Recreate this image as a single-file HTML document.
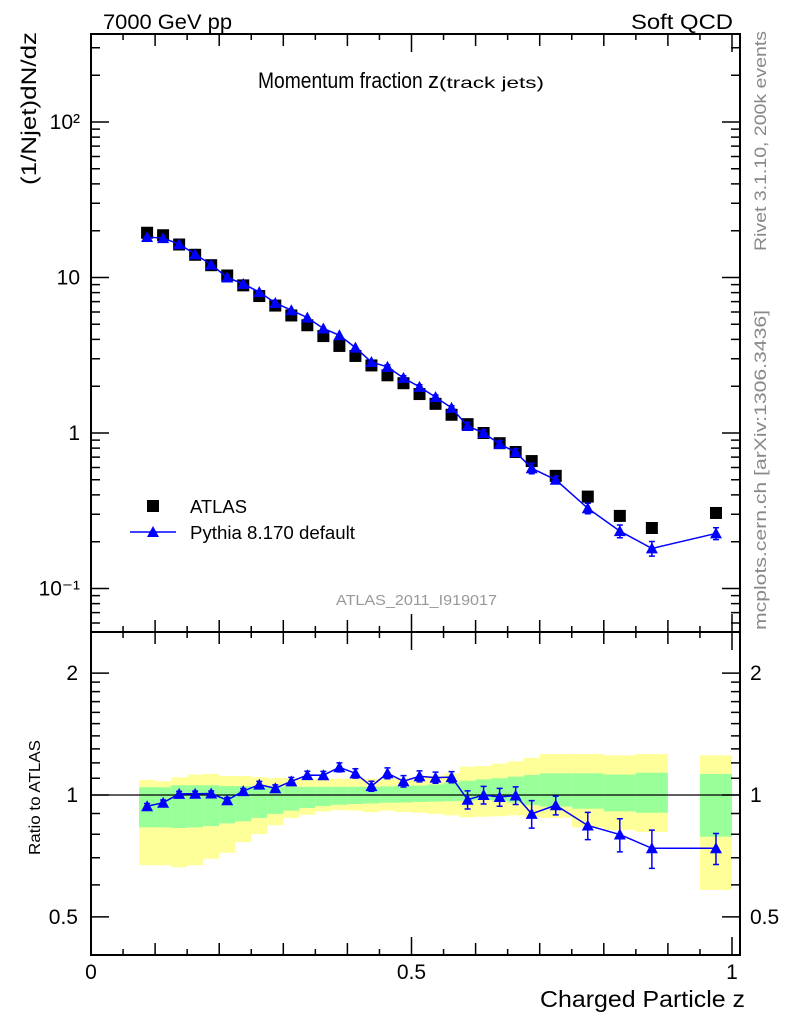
<!DOCTYPE html>
<html><head><meta charset="utf-8"><style>
html,body{margin:0;padding:0;background:#fff}
svg{display:block;font-family:"Liberation Sans",sans-serif}
</style></head><body>
<svg id="chart" width="786" height="1024" viewBox="0 0 786 1024">
<g id="bands"></g>
<g id="main"></g>
<g id="ratio"></g>
<g id="axes"></g>
<text x="103" y="29" font-size="21" textLength="129" lengthAdjust="spacingAndGlyphs">7000 GeV pp</text>
<text x="631" y="29" font-size="21" textLength="102" lengthAdjust="spacingAndGlyphs">Soft QCD</text>
<text x="258" y="88" font-size="22"><tspan textLength="170" lengthAdjust="spacingAndGlyphs">Momentum fraction </tspan><tspan font-size="22" textLength="11" lengthAdjust="spacingAndGlyphs">z</tspan><tspan font-size="16" textLength="105" lengthAdjust="spacingAndGlyphs">(track jets)</tspan></text>
<text transform="translate(36,185) rotate(-90)" font-size="21" textLength="153" lengthAdjust="spacingAndGlyphs">(1/Njet)dN/dz</text>
<text transform="translate(40,855) rotate(-90)" font-size="16" textLength="115" lengthAdjust="spacingAndGlyphs">Ratio to ATLAS</text>
<text x="540" y="1007" font-size="23" textLength="205" lengthAdjust="spacingAndGlyphs">Charged Particle z</text>
<text transform="translate(766,251) rotate(-90)" font-size="17" fill="#888" textLength="220" lengthAdjust="spacingAndGlyphs">Rivet 3.1.10,  200k events</text>
<text transform="translate(766,630) rotate(-90)" font-size="17" fill="#888" textLength="320" lengthAdjust="spacingAndGlyphs">mcplots.cern.ch [arXiv:1306.3436]</text>
<text x="336" y="605" font-size="15" fill="#999" textLength="161" lengthAdjust="spacingAndGlyphs">ATLAS_2011_I919017</text>
<g>
<rect x="147" y="500" width="12" height="12" fill="#000"/>
<text x="190" y="513" font-size="18" textLength="57" lengthAdjust="spacingAndGlyphs">ATLAS</text>
<line x1="130" y1="532" x2="176" y2="532" stroke="#00f" stroke-width="1.5"/>
<polygon points="153,526 159,537 147,537" fill="#00f"/>
<text x="190" y="539" font-size="18" textLength="165" lengthAdjust="spacingAndGlyphs">Pythia 8.170 default</text>
</g>
</svg>
<script>
const binLo = [0.075,0.1,0.125,0.15,0.175,0.2,0.225,0.25,0.275,0.3,0.325,0.35,0.375,0.4,0.425,0.45,0.475,0.5,0.525,0.55,0.575,0.6,0.625,0.65,0.675,0.7,0.75,0.8,0.85,0.95];
const binHi = [0.1,0.125,0.15,0.175,0.2,0.225,0.25,0.275,0.3,0.325,0.35,0.375,0.4,0.425,0.45,0.475,0.5,0.525,0.55,0.575,0.6,0.625,0.65,0.675,0.7,0.75,0.8,0.85,0.9,1.0];
const atlas = [19.4,18.7,16.3,14.0,12.0,10.3,8.9,7.6,6.6,5.7,4.93,4.2,3.63,3.13,2.72,2.35,2.09,1.78,1.54,1.31,1.14,1.0,0.86,0.755,0.66,0.53,0.39,0.293,0.245,0.306];
const pythia = [18.2,17.9,16.4,14.1,12.1,10.0,9.1,8.06,6.86,6.16,5.52,4.70,4.25,3.54,2.86,2.66,2.26,1.98,1.70,1.45,1.11,1.0,0.85,0.753,0.593,0.50,0.328,0.234,0.181,0.226];
const ratioErr = [0.015,0.015,0.015,0.015,0.015,0.015,0.015,0.02,0.02,0.025,0.025,0.025,0.03,0.03,0.03,0.035,0.035,0.035,0.035,0.035,0.05,0.05,0.05,0.05,0.07,0.05,0.065,0.075,0.08,0.065];
const yellowTop = [1.089,1.081,1.106,1.123,1.127,1.114,1.114,1.106,1.101,1.101,1.097,1.097,1.097,1.097,1.097,1.101,1.101,1.106,1.115,1.131,1.175,1.179,1.195,1.211,1.235,1.262,1.262,1.253,1.262,1.253];
const greenTop = [1.045,1.045,1.057,1.057,1.057,1.052,1.052,1.048,1.048,1.048,1.048,1.048,1.048,1.048,1.048,1.050,1.052,1.055,1.062,1.073,1.085,1.093,1.100,1.110,1.120,1.131,1.131,1.123,1.135,1.127];
const greenBot = [0.832,0.832,0.829,0.832,0.838,0.851,0.861,0.878,0.898,0.915,0.929,0.939,0.946,0.950,0.953,0.957,0.958,0.961,0.963,0.965,0.968,0.972,0.968,0.958,0.945,0.936,0.925,0.911,0.904,0.789];
const yellowBot = [0.671,0.671,0.663,0.671,0.696,0.720,0.765,0.801,0.842,0.878,0.894,0.911,0.918,0.915,0.908,0.915,0.908,0.904,0.898,0.891,0.881,0.884,0.886,0.891,0.884,0.878,0.832,0.820,0.810,0.583];
const mainTicks = ["10\u207B\u00B9","1","10","10\u00B2"];
const mainTickVals = [0.1,1,10,100];
const ratioTickVals = [0.5,1,2];
const ratioTickLabels = ["0.5","1","2"];
const xTickVals = [0,0.5,1];
const xTickLabels = ["0","0.5","1"];

const NS="http://www.w3.org/2000/svg";
const L=91,R=740,T=34,MB=632,RB=955;
const X0=91,X1=732;
const xs=z=>X0+(X1-X0)*z;
const ym=v=>433-155.5*Math.log10(v);
const yr=r=>795-405*Math.log10(r);
function mk(parent,tag,attrs){const e=document.createElementNS(NS,tag);for(const k in attrs)e.setAttribute(k,attrs[k]);parent.appendChild(e);return e;}
const gB=document.getElementById('bands'),gM=document.getElementById('main'),gR=document.getElementById('ratio'),gA=document.getElementById('axes');

for(let i=0;i<binLo.length;i++){
  const x1=xs(binLo[i]),x2=xs(binHi[i]);
  const y=mk(gB,'rect',{x:x1,y:yr(yellowTop[i]),width:x2-x1,height:yr(yellowBot[i])-yr(yellowTop[i]),fill:'#ffff99'});
  
  
  const g=mk(gB,'rect',{x:x1,y:yr(greenTop[i]),width:x2-x1,height:yr(greenBot[i])-yr(greenTop[i]),fill:'#99ff99'});
  
  
}
const one=mk(gR,'line',{x1:L,x2:R,y1:yr(1),y2:yr(1),stroke:'#000','stroke-width':1.2});



const cen=i=>(binLo[i]+binHi[i])/2;
for(let i=0;i<atlas.length;i++){
  const s=mk(gM,'rect',{x:xs(cen(i))-6,y:ym(atlas[i])-6,width:12,height:12,fill:'#000'});
  
  
}
let pm='';for(let i=0;i<pythia.length;i++)pm+=(i?'L':'M')+xs(cen(i))+','+ym(pythia[i]);
const pl=mk(gM,'path',{d:pm,fill:'none',stroke:'#00f','stroke-width':1.5});


for(let i=0;i<pythia.length;i++){
  const x=xs(cen(i)),y=ym(pythia[i]);
  const r=pythia[i]/atlas[i],rel=ratioErr[i]/r;
  if(rel>0.03){
    const eb=mk(gM,'path',{d:`M${x},${ym(pythia[i]*(1+rel))}V${ym(pythia[i]*(1-rel))}M${x-3},${ym(pythia[i]*(1+rel))}h6M${x-3},${ym(pythia[i]*(1-rel))}h6`,stroke:'#00f','stroke-width':1.5,fill:'none'});
    
    
  }
  const t=mk(gM,'polygon',{points:`${x},${y-6} ${x+6},${y+5} ${x-6},${y+5}`,fill:'#00f'});
  
  
}
let pr='';for(let i=0;i<pythia.length;i++)pr+=(i?'L':'M')+xs(cen(i))+','+yr(pythia[i]/atlas[i]);
const rl=mk(gR,'path',{d:pr,fill:'none',stroke:'#00f','stroke-width':1.5});


for(let i=0;i<pythia.length;i++){
  const r=pythia[i]/atlas[i],x=xs(cen(i));
  const a=yr(r+ratioErr[i]),b=yr(r-ratioErr[i]);
  const eb=mk(gR,'path',{d:`M${x},${a}V${b}M${x-3},${a}h6M${x-3},${b}h6`,stroke:'#00f','stroke-width':1.5,fill:'none'});
  
  
  const y=yr(r);
  const t=mk(gR,'polygon',{points:`${x},${y-6} ${x+6},${y+5} ${x-6},${y+5}`,fill:'#00f'});
  
  
}
const f1=mk(gA,'rect',{x:L,y:T,width:R-L,height:MB-T,fill:'none',stroke:'#000','stroke-width':2});


const f2=mk(gA,'rect',{x:L,y:MB,width:R-L,height:RB-MB,fill:'none',stroke:'#000','stroke-width':2});


let d='';
for(let k=0;k<=20;k++){
  const z=k*0.05,x=xs(z);const len=(k%10===0)?18:(k%2===0?12:6);
  d+=`M${x},${RB}v${-len}M${x},${MB}v${-len}M${x},${MB}v${len}M${x},${T}v${len}`;
}
for(let e=-2;e<=2;e++)for(let m=1;m<=9;m++){
  const v=m*Math.pow(10,e),y=ym(v);if(y<T||y>MB)continue;
  const len=m===1?18:9;d+=`M${L},${y}h${len}M${R},${y}h${-len}`;
}
[0.5,0.6,0.7,0.8,0.9,1,1.1,1.2,1.3,1.4,1.5,1.6,1.7,1.8,1.9,2].forEach(v=>{
  const y=yr(v);const big=ratioTickVals.includes(v);const len=big?18:9;
  d+=`M${L},${y}h${len}M${R},${y}h${-len}`;
});
const tk=mk(gA,'path',{d:d,stroke:'#000','stroke-width':1.5,fill:'none'});


mainTickVals.forEach((v,i)=>{
  const t=mk(gA,'text',{x:80,y:ym(v)+7,'font-size':21,'text-anchor':'end'});
  t.textContent=mainTicks[i];
  
  
});
ratioTickVals.forEach((v,i)=>{
  const t=mk(gA,'text',{x:78,y:yr(v)+7,'font-size':21,'text-anchor':'end'});
  t.textContent=ratioTickLabels[i];
  
  
  const t2=mk(gA,'text',{x:750,y:yr(v)+7,'font-size':21});
  t2.textContent=ratioTickLabels[i];
  
  
});
xTickVals.forEach((v,i)=>{
  const t=mk(gA,'text',{x:xs(v),y:979,'font-size':21,'text-anchor':'middle'});
  t.textContent=xTickLabels[i];
  
  
});
</script>
</body></html>
